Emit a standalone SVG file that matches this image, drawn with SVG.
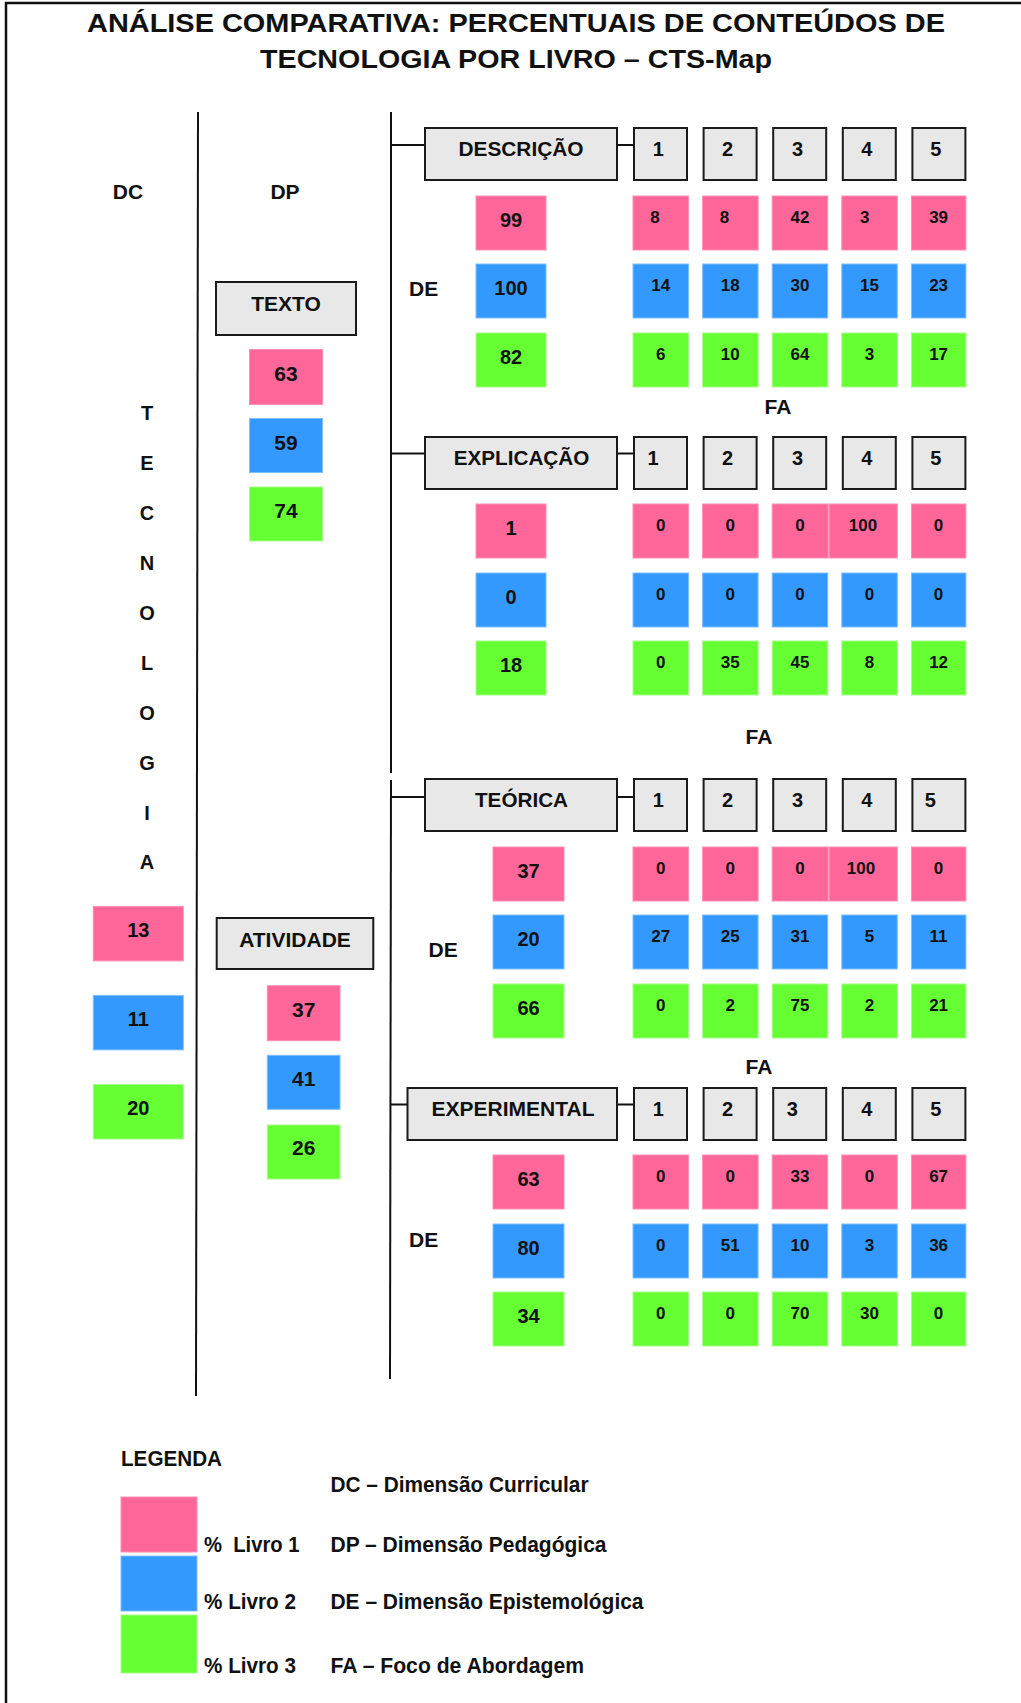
<svg xmlns="http://www.w3.org/2000/svg" width="1021" height="1703" viewBox="0 0 1021 1703">
<style>
.t{font-family:"Liberation Sans",Arial,Helvetica,sans-serif;font-weight:bold;fill:#111}
.m{text-anchor:middle}
.hdr{fill:#E8E8E8;stroke:#1a1a1a;stroke-width:2}
.p{fill:#FF6699;stroke:#FF8FB5;stroke-width:1}
.b{fill:#3399FF;stroke:#80BFFF;stroke-width:1}
.g{fill:#66FF33;stroke:#A6FF8A;stroke-width:1}
.ln{stroke:#111;stroke-width:2;fill:none}
.f20{font-size:20px}
.f21{font-size:21px}
.f17{font-size:17px}
.f22{font-size:22px}
.pre{white-space:pre}
</style>
<rect width="1021" height="1703" fill="#fff"/>
<g id="frame"><path d="M6,1703 V3 H1021" stroke="#111" stroke-width="2.5" fill="none"/></g>
<g id="title" class="t m" font-size="26">
<text x="516" y="32" textLength="858" lengthAdjust="spacingAndGlyphs">ANÁLISE COMPARATIVA: PERCENTUAIS DE CONTEÚDOS DE</text>
<text x="516" y="68" textLength="512" lengthAdjust="spacingAndGlyphs">TECNOLOGIA POR LIVRO – CTS-Map</text>
</g>
<g id="connectors" class="ln">
<path d="M198,112 L196,1396"/>
<path d="M391,112 L391,773"/>
<path d="M391,780 L390,1379"/>
<path d="M391,145 H425 M617,145 H634"/>
<path d="M391,453.5 H425 M617,453.5 H634"/>
<path d="M391,797 H425 M617,797 H634"/>
<path d="M391,1104.5 H407.5 M617,1104.5 H634"/>
</g>
<g id="dc" class="t f21 m">
<text x="128" y="199">DC</text>
<g id="tecnologia" class="f20">
<text x="147" y="420">T</text><text x="147" y="470">E</text><text x="147" y="520">C</text><text x="147" y="570">N</text><text x="147" y="620">O</text><text x="147" y="670">L</text><text x="147" y="720">O</text><text x="147" y="770">G</text><text x="147" y="820">I</text><text x="147" y="869">A</text>
</g>
<g id="dc-values" class="f20">
<rect class="p" x="93.3" y="906.4" width="90" height="54.5"/><text x="138.3" y="937">13</text>
<rect class="b" x="93.3" y="995.4" width="90" height="54.5"/><text x="138.3" y="1026">11</text>
<rect class="g" x="93.3" y="1084.5" width="90" height="54.5"/><text x="138.3" y="1115">20</text>
</g>
</g>
<g id="dp" class="t f21 m">
<text x="285" y="199">DP</text>
<g id="texto">
<rect class="hdr" x="216" y="282" width="140" height="53"/><text x="286" y="310.5">TEXTO</text>
<rect class="p" x="249.5" y="349.5" width="73" height="55"/><text x="286" y="380.5">63</text>
<rect class="b" x="249.5" y="418.5" width="73" height="54"/><text x="286" y="449.5">59</text>
<rect class="g" x="249.5" y="487" width="73" height="54"/><text x="286" y="518">74</text>
</g>
<g id="atividade">
<rect class="hdr" x="216.7" y="918" width="156.6" height="51"/><text x="295" y="947">ATIVIDADE</text>
<rect class="p" x="267.3" y="985.7" width="72.7" height="55"/><text x="303.7" y="1016.5">37</text>
<rect class="b" x="267.3" y="1055.3" width="72.7" height="54"/><text x="303.7" y="1085.5">41</text>
<rect class="g" x="267.3" y="1125" width="72.7" height="54"/><text x="303.7" y="1155">26</text>
</g>
</g>
<g id="descricao" class="t m">
<rect class="hdr" x="425" y="128" width="192" height="52"/>
<text class="f20" x="521" y="156" textLength="125" lengthAdjust="spacingAndGlyphs">DESCRIÇÃO</text>
<rect class="hdr" x="634" y="128" width="53" height="52"/><rect class="hdr" x="703.6" y="128" width="53" height="52"/><rect class="hdr" x="773.2" y="128" width="53" height="52"/><rect class="hdr" x="842.8" y="128" width="53" height="52"/><rect class="hdr" x="912.4" y="128" width="53" height="52"/>
<g class="f20"><text x="658.3" y="156">1</text><text x="727.6" y="156">2</text><text x="797.6" y="156">3</text><text x="866.8" y="156">4</text><text x="935.9" y="156">5</text></g>
<text class="f21" x="409" y="296" text-anchor="start">DE</text>
<rect class="p" x="476" y="196" width="70" height="54"/><text class="f20" x="511" y="226.5">99</text>
<rect class="b" x="476" y="264" width="70" height="54"/><text class="f20" x="511" y="294.5">100</text>
<rect class="g" x="476" y="333" width="70" height="54"/><text class="f20" x="511" y="363.5">82</text>
<rect class="p" x="633" y="196" width="55.5" height="54"/><rect class="p" x="702.6" y="196" width="55.5" height="54"/><rect class="p" x="772.2" y="196" width="55.5" height="54"/><rect class="p" x="841.8" y="196" width="55.5" height="54"/><rect class="p" x="911.4" y="196" width="54.5" height="54"/>
<rect class="b" x="633" y="264" width="55.5" height="54"/><rect class="b" x="702.6" y="264" width="55.5" height="54"/><rect class="b" x="772.2" y="264" width="55.5" height="54"/><rect class="b" x="841.8" y="264" width="55.5" height="54"/><rect class="b" x="911.4" y="264" width="54.5" height="54"/>
<rect class="g" x="633" y="333" width="55.5" height="54"/><rect class="g" x="702.6" y="333" width="55.5" height="54"/><rect class="g" x="772.2" y="333" width="55.5" height="54"/><rect class="g" x="841.8" y="333" width="55.5" height="54"/><rect class="g" x="911.4" y="333" width="54.5" height="54"/>
<g class="f17">
<text x="655" y="223">8</text><text x="724.6" y="223">8</text><text x="800" y="223">42</text><text x="864.8" y="223">3</text><text x="938.6" y="223">39</text>
<text x="660.7" y="291">14</text><text x="730.3" y="291">18</text><text x="800" y="291">30</text><text x="869.5" y="291">15</text><text x="938.6" y="291">23</text>
<text x="660.7" y="360">6</text><text x="730.3" y="360">10</text><text x="800" y="360">64</text><text x="869.5" y="360">3</text><text x="938.6" y="360">17</text>
</g>
<text class="f21" x="778" y="413.5">FA</text>
</g>
<g id="explicacao" class="t m">
<rect class="hdr" x="425" y="437" width="192" height="52"/>
<text class="f20" x="521.5" y="465" textLength="135.5" lengthAdjust="spacingAndGlyphs">EXPLICAÇÃO</text>
<rect class="hdr" x="634" y="437" width="53" height="52"/><rect class="hdr" x="703.6" y="437" width="53" height="52"/><rect class="hdr" x="773.2" y="437" width="53" height="52"/><rect class="hdr" x="842.8" y="437" width="53" height="52"/><rect class="hdr" x="912.4" y="437" width="53" height="52"/>
<g class="f20"><text x="653" y="465">1</text><text x="727.6" y="465">2</text><text x="797.6" y="465">3</text><text x="866.8" y="465">4</text><text x="935.9" y="465">5</text></g>
<rect class="p" x="476" y="504" width="70" height="54"/><text class="f20" x="511" y="534.5">1</text>
<rect class="b" x="476" y="573" width="70" height="54"/><text class="f20" x="511" y="603.5">0</text>
<rect class="g" x="476" y="641" width="70" height="54"/><text class="f20" x="511" y="671.5">18</text>
<rect class="p" x="633" y="504" width="55.5" height="54"/><rect class="p" x="702.6" y="504" width="55.5" height="54"/><rect class="p" x="772.2" y="504" width="56" height="54"/><rect class="p" x="829.2" y="504" width="68.1" height="54"/><rect class="p" x="911.4" y="504" width="54.5" height="54"/>
<rect class="b" x="633" y="573" width="55.5" height="54"/><rect class="b" x="702.6" y="573" width="55.5" height="54"/><rect class="b" x="772.2" y="573" width="55.5" height="54"/><rect class="b" x="841.8" y="573" width="55.5" height="54"/><rect class="b" x="911.4" y="573" width="54.5" height="54"/>
<rect class="g" x="633" y="641" width="55.5" height="54"/><rect class="g" x="702.6" y="641" width="55.5" height="54"/><rect class="g" x="772.2" y="641" width="55.5" height="54"/><rect class="g" x="841.8" y="641" width="55.5" height="54"/><rect class="g" x="911.4" y="641" width="54.5" height="54"/>
<g class="f17">
<text x="660.7" y="531">0</text><text x="730.3" y="531">0</text><text x="800" y="531">0</text><text x="863" y="531">100</text><text x="938.6" y="531">0</text>
<text x="660.7" y="600">0</text><text x="730.3" y="600">0</text><text x="800" y="600">0</text><text x="869.5" y="600">0</text><text x="938.6" y="600">0</text>
<text x="660.7" y="668">0</text><text x="730.3" y="668">35</text><text x="800" y="668">45</text><text x="869.5" y="668">8</text><text x="938.6" y="668">12</text>
</g>
<text class="f21" x="759" y="743.5">FA</text>
</g>
<g id="teorica" class="t m">
<rect class="hdr" x="425" y="779" width="192" height="52"/>
<text class="f20" x="521.5" y="807" textLength="93" lengthAdjust="spacingAndGlyphs">TEÓRICA</text>
<rect class="hdr" x="634" y="779" width="53" height="52"/><rect class="hdr" x="703.6" y="779" width="53" height="52"/><rect class="hdr" x="773.2" y="779" width="53" height="52"/><rect class="hdr" x="842.8" y="779" width="53" height="52"/><rect class="hdr" x="912.4" y="779" width="53" height="52"/>
<g class="f20"><text x="658.3" y="807">1</text><text x="727.6" y="807">2</text><text x="797.6" y="807">3</text><text x="866.8" y="807">4</text><text x="930.4" y="807">5</text></g>
<text class="f21" x="428.5" y="957" text-anchor="start">DE</text>
<rect class="p" x="493" y="847" width="71" height="54"/><text class="f20" x="528.5" y="877.5">37</text>
<rect class="b" x="493" y="915" width="71" height="54"/><text class="f20" x="528.5" y="945.5">20</text>
<rect class="g" x="493" y="984" width="71" height="54"/><text class="f20" x="528.5" y="1014.5">66</text>
<rect class="p" x="633" y="847" width="55.5" height="54"/><rect class="p" x="702.6" y="847" width="55.5" height="54"/><rect class="p" x="772.2" y="847" width="56" height="54"/><rect class="p" x="829.2" y="847" width="68.1" height="54"/><rect class="p" x="911.4" y="847" width="54.5" height="54"/>
<rect class="b" x="633" y="915" width="55.5" height="54"/><rect class="b" x="702.6" y="915" width="55.5" height="54"/><rect class="b" x="772.2" y="915" width="55.5" height="54"/><rect class="b" x="841.8" y="915" width="55.5" height="54"/><rect class="b" x="911.4" y="915" width="54.5" height="54"/>
<rect class="g" x="633" y="984" width="55.5" height="54"/><rect class="g" x="702.6" y="984" width="55.5" height="54"/><rect class="g" x="772.2" y="984" width="55.5" height="54"/><rect class="g" x="841.8" y="984" width="55.5" height="54"/><rect class="g" x="911.4" y="984" width="54.5" height="54"/>
<g class="f17">
<text x="660.7" y="874">0</text><text x="730.3" y="874">0</text><text x="800" y="874">0</text><text x="861" y="874">100</text><text x="938.6" y="874">0</text>
<text x="660.7" y="942">27</text><text x="730.3" y="942">25</text><text x="800" y="942">31</text><text x="869.5" y="942">5</text><text x="938.6" y="942">11</text>
<text x="660.7" y="1011">0</text><text x="730.3" y="1011">2</text><text x="800" y="1011">75</text><text x="869.5" y="1011">2</text><text x="938.6" y="1011">21</text>
</g>
<text class="f21" x="759" y="1073.5">FA</text>
</g>
<g id="experimental" class="t m">
<rect class="hdr" x="407.5" y="1088" width="209.5" height="52"/>
<text class="f20" x="513" y="1116" textLength="163" lengthAdjust="spacingAndGlyphs">EXPERIMENTAL</text>
<rect class="hdr" x="634" y="1088" width="53" height="52"/><rect class="hdr" x="703.6" y="1088" width="53" height="52"/><rect class="hdr" x="773.2" y="1088" width="53" height="52"/><rect class="hdr" x="842.8" y="1088" width="53" height="52"/><rect class="hdr" x="912.4" y="1088" width="53" height="52"/>
<g class="f20"><text x="658.3" y="1116">1</text><text x="727.6" y="1116">2</text><text x="792.2" y="1116">3</text><text x="866.8" y="1116">4</text><text x="935.9" y="1116">5</text></g>
<text class="f21" x="409" y="1246.5" text-anchor="start">DE</text>
<rect class="p" x="493" y="1155" width="71" height="54"/><text class="f20" x="528.5" y="1186">63</text>
<rect class="b" x="493" y="1224" width="71" height="54"/><text class="f20" x="528.5" y="1255">80</text>
<rect class="g" x="493" y="1292" width="71" height="54"/><text class="f20" x="528.5" y="1323">34</text>
<rect class="p" x="633" y="1155" width="55.5" height="54"/><rect class="p" x="702.6" y="1155" width="55.5" height="54"/><rect class="p" x="772.2" y="1155" width="55.5" height="54"/><rect class="p" x="841.8" y="1155" width="55.5" height="54"/><rect class="p" x="911.4" y="1155" width="54.5" height="54"/>
<rect class="b" x="633" y="1224" width="55.5" height="54"/><rect class="b" x="702.6" y="1224" width="55.5" height="54"/><rect class="b" x="772.2" y="1224" width="55.5" height="54"/><rect class="b" x="841.8" y="1224" width="55.5" height="54"/><rect class="b" x="911.4" y="1224" width="54.5" height="54"/>
<rect class="g" x="633" y="1292" width="55.5" height="54"/><rect class="g" x="702.6" y="1292" width="55.5" height="54"/><rect class="g" x="772.2" y="1292" width="55.5" height="54"/><rect class="g" x="841.8" y="1292" width="55.5" height="54"/><rect class="g" x="911.4" y="1292" width="54.5" height="54"/>
<g class="f17">
<text x="660.7" y="1182">0</text><text x="730.3" y="1182">0</text><text x="800" y="1182">33</text><text x="869.5" y="1182">0</text><text x="938.6" y="1182">67</text>
<text x="660.7" y="1251">0</text><text x="730.3" y="1251">51</text><text x="800" y="1251">10</text><text x="869.5" y="1251">3</text><text x="938.6" y="1251">36</text>
<text x="660.7" y="1319">0</text><text x="730.3" y="1319">0</text><text x="800" y="1319">70</text><text x="869.5" y="1319">30</text><text x="938.6" y="1319">0</text>
</g>
</g>
<g id="legenda" class="t f22">
<text x="121" y="1466" textLength="101" lengthAdjust="spacingAndGlyphs">LEGENDA</text>
<rect class="p" x="121" y="1497" width="76" height="55"/>
<rect class="b" x="121" y="1556" width="76" height="55"/>
<rect class="g" x="121" y="1615" width="76" height="58"/>
<text class="pre" x="204" y="1551.7" textLength="95.6" lengthAdjust="spacingAndGlyphs">%  Livro 1</text>
<text x="204" y="1609.3" textLength="92" lengthAdjust="spacingAndGlyphs">% Livro 2</text>
<text x="204" y="1672.7" textLength="92" lengthAdjust="spacingAndGlyphs">% Livro 3</text>
<text x="330.5" y="1491.7" textLength="258" lengthAdjust="spacingAndGlyphs">DC – Dimensão Curricular</text>
<text x="330.5" y="1551.7" textLength="276" lengthAdjust="spacingAndGlyphs">DP – Dimensão Pedagógica</text>
<text x="330.5" y="1609.3" textLength="313" lengthAdjust="spacingAndGlyphs">DE – Dimensão Epistemológica</text>
<text x="330.5" y="1672.7" textLength="253.5" lengthAdjust="spacingAndGlyphs">FA – Foco de Abordagem</text>
</g>
</svg>
